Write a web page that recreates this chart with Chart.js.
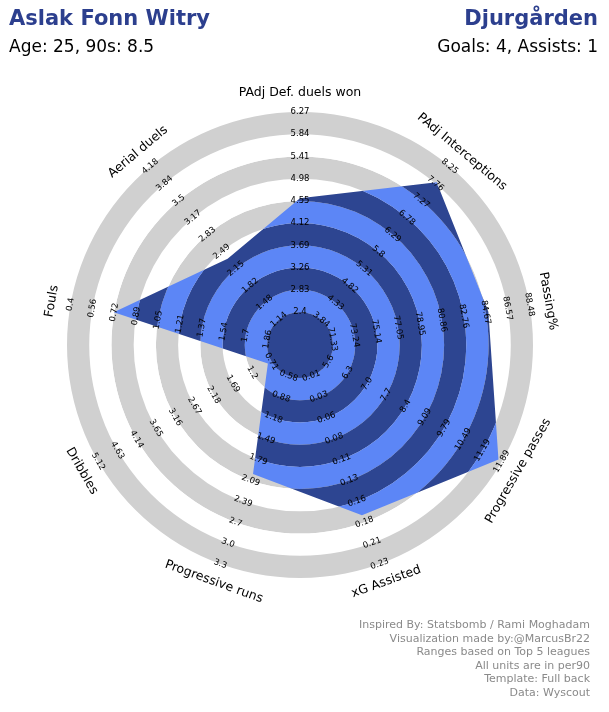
<!DOCTYPE html>
<html><head><meta charset="utf-8">
<script src="https://cdn.jsdelivr.net/npm/chart.js@4"></script>
<style>
body{margin:0;background:#fff;font-family:"DejaVu Sans",sans-serif;}
#wrap{position:relative;width:609px;height:712px;}
canvas{position:absolute;left:0;top:0;}
.t{position:absolute;white-space:nowrap;}
</style></head><body>
<div id="wrap">
<canvas id="c" width="609" height="712"></canvas>
<div class="t" style="left:9px;top:6px;font-size:21px;font-weight:bold;color:#2c3f8e">Aslak Fonn Witry</div>
<div class="t" style="left:9px;top:36px;font-size:17px;color:#000">Age: 25, 90s: 8.5</div>
<div class="t" style="right:11px;top:6px;font-size:21px;font-weight:bold;color:#2c3f8e">Djurgården</div>
<div class="t" style="right:11px;top:36px;font-size:17px;color:#000">Goals: 4, Assists: 1</div>
<div class="t" style="right:19px;top:618px;font-size:11px;line-height:13.6px;color:#8a8a8a;text-align:right">Inspired By: Statsbomb / Rami Moghadam<br>Visualization made by:@MarcusBr22<br>Ranges based on Top 5 leagues<br>All units are in per90<br>Template: Full back<br>Data: Wyscout</div>
</div>
<script>
const params = ["PAdj Def. duels won","PAdj Interceptions","Passing%","Progressive passes","xG Assisted","Progressive runs","Dribbles","Fouls","Aerial duels"];
const values = [4.6, 7.8, 84.9, 11.77, 0.173, 2.0, 0.8, 0.72, 2.35];
const tickDefDuels = ["2.4","2.83","3.26","3.69","4.12","4.55","4.98","5.41","5.84","6.27"];
const tickInterceptions = ["3.84","4.33","4.82","5.31","5.8","6.29","6.78","7.27","7.76","8.25"];
const tickPassing = ["71.33","73.24","75.14","77.05","78.95","80.86","82.76","84.67","86.57","88.48"];
const tickProgPasses = ["5.6","6.3","7.0","7.7","8.4","9.09","9.79","10.49","11.19","11.89"];
const tickXGA = ["0.01","0.03","0.06","0.08","0.11","0.13","0.16","0.18","0.21","0.23"];
const tickProgRuns = ["0.58","0.88","1.18","1.49","1.79","2.09","2.39","2.7","3.0","3.3"];
const tickDribbles = ["0.71","1.2","1.69","2.18","2.67","3.16","3.65","4.14","4.63","5.12"];
const tickFouls = ["1.86","1.7","1.54","1.37","1.21","1.05","0.89","0.72","0.56","0.4"];
const tickAerial = ["1.14","1.48","1.82","2.15","2.49","2.83","3.17","3.5","3.84","4.18"];
const ticks = [tickDefDuels,tickInterceptions,tickPassing,tickProgPasses,tickXGA,tickProgRuns,tickDribbles,tickFouls,tickAerial];

const norm = values.map((v,i)=>{const lo=parseFloat(ticks[i][0]),hi=parseFloat(ticks[i][9]);return (v-lo)/(hi-lo);});
const N = 10, INNER = -0.165;

function ringR(s,k){ // boundary k (0..9) radius
  return s.getDistanceFromCenterForValue(k/9);
}
const plugin = {
  id:'rings',
  beforeDatasetsDraw(chart){
    const ctx=chart.ctx, s=chart.scales.r, cx=s.xCenter, cy=s.yCenter;
    const band=(k,col)=>{ctx.beginPath();ctx.arc(cx,cy,ringR(s,k+1),0,Math.PI*2);ctx.arc(cx,cy,ringR(s,k),0,Math.PI*2,true);ctx.fillStyle=col;ctx.fill();};
    ctx.save();
    for(let k=0;k<9;k++) band(k, k%2===0?'#d0d0d0':'#ffffff');
    // polygon clip
    const pts=chart.getDatasetMeta(0).data;
    ctx.beginPath();pts.forEach((p,i)=>i?ctx.lineTo(p.x,p.y):ctx.moveTo(p.x,p.y));ctx.closePath();
    ctx.clip();
    for(let k=0;k<9;k++) band(k, k%2===0?'#5c86f6':'#2d4591');
    ctx.restore();
    ctx.save();
    ctx.beginPath();ctx.arc(cx,cy,ringR(s,0),0,Math.PI*2);ctx.fillStyle='#2d4591';ctx.fill();
    // labels
    ctx.textAlign='center';ctx.textBaseline='middle';
    params.forEach((p,i)=>{
      let deg=i*360/params.length; const a=deg*Math.PI/180;
      let rot=deg; if(deg>90&&deg<270) rot=deg-180;
      const rr=rot*Math.PI/180;
      const draw=(txt,r,font)=>{ctx.save();ctx.translate(cx+r*Math.sin(a),cy-r*Math.cos(a));ctx.rotate(rr);ctx.font=font;ctx.fillStyle='#000';ctx.fillText(txt,0,0);ctx.restore();};
      ticks[i].forEach((t,k)=>draw(t,ringR(s,k),'8.5px "DejaVu Sans"'));
      draw(p,s.getDistanceFromCenterForValue(1)+19,'12.5px "DejaVu Sans"');
    });
    ctx.restore();
  }
};
new Chart(document.getElementById('c'),{
  type:'radar',
  data:{labels:params,datasets:[{data:norm,backgroundColor:'rgba(0,0,0,0)',borderWidth:0,pointRadius:0}]},
  options:{responsive:false,animation:false,
    layout:{padding:{left:67,right:76,top:112,bottom:134}},
    plugins:{legend:{display:false},tooltip:{enabled:false}},
    scales:{r:{min:INNER,max:1,ticks:{display:false},grid:{display:false},angleLines:{display:false},pointLabels:{display:false}}}
  },
  plugins:[plugin]
});
</script>
</body></html>
